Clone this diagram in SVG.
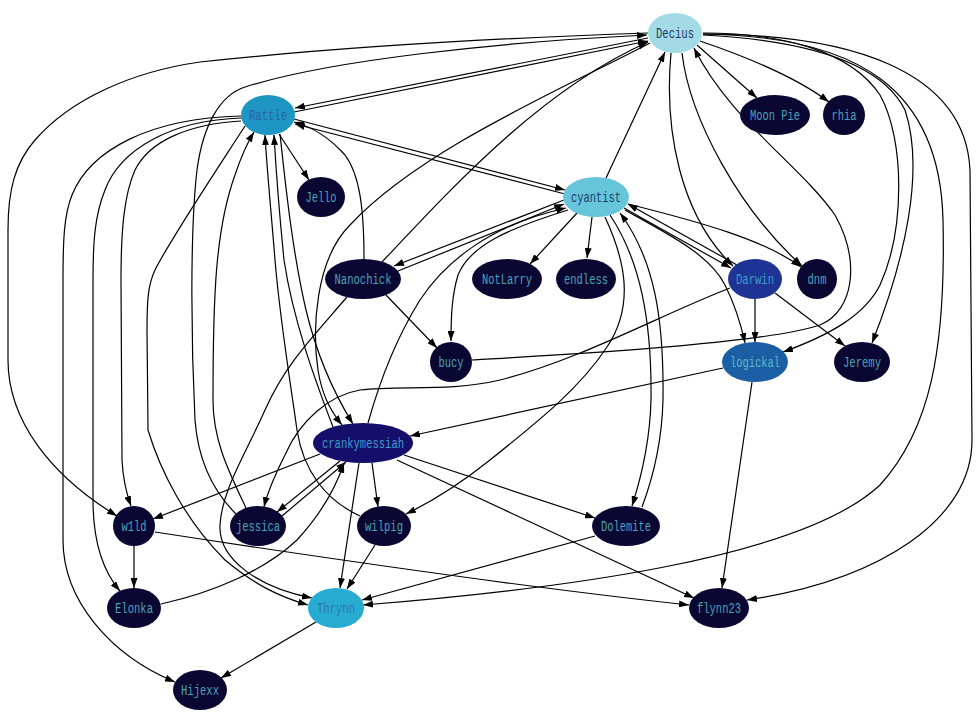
<svg xmlns="http://www.w3.org/2000/svg" width="980" height="720" viewBox="0 0 980 720">
<style>
.e{fill:none;stroke:#000;stroke-width:1.2;marker-end:url(#ah)}
text{font-family:"Liberation Mono","DejaVu Sans Mono",monospace;font-size:14px;text-anchor:middle}
.dk ellipse{fill:#0b0733}
.dk text{fill:#4aa3b8}
</style>
<defs>
<marker id="ah" viewBox="0 0 10 7" refX="10" refY="3.5" markerWidth="10" markerHeight="7" markerUnits="userSpaceOnUse" orient="auto"><path d="M0,0 L10,3.5 L0,7 z" fill="#000"/></marker>
</defs>
<rect width="980" height="720" fill="#fff"/>
<g id="edges">
<path class="e" d="M697,45 L757,98"/>
<path class="e" d="M700,41 C750,58 800,80 829,102"/>
<path class="e" d="M648,38 L295,108"/>
<path class="e" d="M294,112 L648,41"/>
<path class="e" d="M682,53 C690,120 740,210 802,266"/>
<path class="e" d="M671,53 C664,130 680,215 733,266"/>
<path class="e" d="M703,33 C780,33 850,50 880,95 C905,140 905,230 880,285 C865,315 830,335 783,352"/>
<path class="e" d="M703,35 C800,40 880,60 905,110 C925,170 905,260 872,343"/>
<path class="e" d="M703,34 C860,36 940,90 943,220 C946,350 930,430 880,485 C800,560 550,590 363,605"/>
<path class="e" d="M703,34 C850,34 965,70 970,170 L972,440 C972,520 880,580 747,600"/>
<path class="e" d="M472,360 C550,355 760,345 820,325 C855,310 860,260 835,215 C800,165 730,120 694,48"/>
<path class="e" d="M606,178 L665,52"/>
<path class="e" d="M382,262 C450,190 540,90 648,42"/>
<path class="e" d="M650,43 C560,90 420,150 350,225 C315,260 312,330 318,370 C322,395 330,410 342,425"/>
<path class="e" d="M236,514 C212,490 198,460 195,420 C191,340 190,230 197,170 C203,125 220,95 245,87 C330,60 500,42 647,35"/>
<path class="e" d="M246,508 C228,470 213,440 213,400 C213,300 215,230 235,175 C240,160 246,145 254,132"/>
<path class="e" d="M648,33 C500,38 330,48 200,62 C130,72 70,100 35,140 C15,163 8,190 8,230 L8,360 C8,420 50,475 117,516"/>
<path class="e" d="M241,116 C150,118 90,150 72,195 C64,215 63,240 63,280 L63,540 C63,600 110,655 175,682"/>
<path class="e" d="M242,118 C170,120 120,150 105,190 C95,215 93,240 93,280 L93,500 C93,540 102,570 120,591"/>
<path class="e" d="M241,121 C190,124 150,140 135,170 C124,195 121,230 121,280 L122,460 C123,480 127,495 131,506"/>
<path class="e" d="M279,134 L309,180"/>
<path class="e" d="M245,126 C210,180 170,240 155,270 C148,285 147,300 147,330 L148,430 C160,470 185,520 225,560 C255,585 280,597 308,605"/>
<path class="e" d="M347,297 C310,340 285,365 265,410 C245,455 222,490 220,525 C218,560 260,588 312,598"/>
<path class="e" d="M386,295 L437,348"/>
<path class="e" d="M364,259 C364,210 360,175 345,155 C330,138 315,128 294,122"/>
<path class="e" d="M294,119 L565,190"/>
<path class="e" d="M565,194 L295,124"/>
<path class="e" d="M398,271 L564,204"/>
<path class="e" d="M564,200 L394,266"/>
<path class="e" d="M368,423 C380,380 395,340 420,300 C445,262 490,225 566,208"/>
<path class="e" d="M568,210 C510,228 470,245 458,275 C452,295 451,315 451,341"/>
<path class="e" d="M577,213 L530,264"/>
<path class="e" d="M592,217 L587,258"/>
<path class="e" d="M624,208 L731,268"/>
<path class="e" d="M737,265 L628,204"/>
<path class="e" d="M625,210 C670,235 710,255 725,285 C735,305 740,320 745,343"/>
<path class="e" d="M628,204 C700,222 765,240 801,267"/>
<path class="e" d="M610,215 C640,260 652,320 651,400 C650,440 642,475 632,506"/>
<path class="e" d="M642,507 C654,475 662,440 663,400 C664,320 655,260 620,213"/>
<path class="e" d="M605,217 C625,260 635,305 607,347 C580,388 540,420 490,460 C465,480 435,500 406,514"/>
<path class="e" d="M755,299 L755,342"/>
<path class="e" d="M775,293 L845,346"/>
<path class="e" d="M730,288 C660,315 580,360 500,380 C450,392 400,385 360,390 C330,395 300,420 285,455 C275,475 268,490 264,507"/>
<path class="e" d="M723,368 L410,436"/>
<path class="e" d="M752,382 L722,588"/>
<path class="e" d="M320,454 L153,519"/>
<path class="e" d="M340,461 L277,512"/>
<path class="e" d="M282,516 L346,462"/>
<path class="e" d="M372,463 L378,507"/>
<path class="e" d="M359,463 L340,588"/>
<path class="e" d="M404,455 L595,518"/>
<path class="e" d="M397,460 L694,598"/>
<path class="e" d="M375,545 L347,589"/>
<path class="e" d="M360,516 C325,500 303,470 297,430 C290,380 280,320 275,260 C271,210 267,170 265,135"/>
<path class="e" d="M333,427 C315,380 293,320 284,260 C279,210 276,170 274,135"/>
<path class="e" d="M280,134 C285,180 292,250 306,310 C318,360 335,395 353,424"/>
<path class="e" d="M134,546 L134,588"/>
<path class="e" d="M155,532 C350,562 550,590 689,605"/>
<path class="e" d="M161,604 C215,592 265,570 297,540 C320,515 335,490 344,463"/>
<path class="e" d="M316,622 L221,678"/>
<path class="e" d="M595,536 L362,600"/>
</g>
<g id="Decius"><ellipse cx="675" cy="33" rx="27" ry="20" fill="#a2dbe6"/><text x="675" y="38" textLength="38" lengthAdjust="spacingAndGlyphs" fill="#263a66">Decius</text></g>
<g id="Rattle"><ellipse cx="268" cy="115" rx="27" ry="20" fill="#1f95c3"/><text x="268" y="120" textLength="38" lengthAdjust="spacingAndGlyphs" fill="#2a64a6">Rattle</text></g>
<g id="Jello" class="dk"><ellipse cx="321" cy="197" rx="24" ry="20"/><text x="321" y="202" textLength="31" lengthAdjust="spacingAndGlyphs">Jello</text></g>
<g id="MoonPie" class="dk"><ellipse cx="775" cy="115" rx="35" ry="20"/><text x="775" y="120" textLength="50" lengthAdjust="spacingAndGlyphs">Moon Pie</text></g>
<g id="rhia" class="dk"><ellipse cx="844" cy="115" rx="21" ry="20"/><text x="844" y="120" textLength="25" lengthAdjust="spacingAndGlyphs">rhia</text></g>
<g id="cyantist"><ellipse cx="596" cy="197" rx="33" ry="20" fill="#66c5da"/><text x="596" y="202" textLength="50" lengthAdjust="spacingAndGlyphs" fill="#1f3b6e">cyantist</text></g>
<g id="Nanochick" class="dk"><ellipse cx="363" cy="279" rx="38" ry="20"/><text x="363" y="284" textLength="57" lengthAdjust="spacingAndGlyphs">Nanochick</text></g>
<g id="NotLarry" class="dk"><ellipse cx="507" cy="279" rx="35" ry="20"/><text x="507" y="284" textLength="50" lengthAdjust="spacingAndGlyphs">NotLarry</text></g>
<g id="endless" class="dk"><ellipse cx="586" cy="279" rx="30" ry="20"/><text x="586" y="284" textLength="44" lengthAdjust="spacingAndGlyphs">endless</text></g>
<g id="Darwin"><ellipse cx="755" cy="279" rx="27" ry="20" fill="#1e3393"/><text x="755" y="284" textLength="38" lengthAdjust="spacingAndGlyphs" fill="#3c9fcc">Darwin</text></g>
<g id="dnm" class="dk"><ellipse cx="817" cy="279" rx="20" ry="20"/><text x="817" y="284" textLength="19" lengthAdjust="spacingAndGlyphs">dnm</text></g>
<g id="bucy" class="dk"><ellipse cx="451" cy="362" rx="21" ry="20"/><text x="451" y="367" textLength="25" lengthAdjust="spacingAndGlyphs">bucy</text></g>
<g id="logickal"><ellipse cx="755" cy="362" rx="33" ry="20" fill="#1b5ea3"/><text x="755" y="367" textLength="50" lengthAdjust="spacingAndGlyphs" fill="#5cb8c8">logickal</text></g>
<g id="Jeremy" class="dk"><ellipse cx="862" cy="362" rx="28" ry="20"/><text x="862" y="367" textLength="38" lengthAdjust="spacingAndGlyphs">Jeremy</text></g>
<g id="crankymessiah"><ellipse cx="363" cy="443" rx="50" ry="20" fill="#150f6b"/><text x="363" y="448" textLength="82" lengthAdjust="spacingAndGlyphs" fill="#3a9fcc">crankymessiah</text></g>
<g id="w1ld" class="dk"><ellipse cx="134" cy="526" rx="21" ry="20"/><text x="134" y="531" textLength="25" lengthAdjust="spacingAndGlyphs">w1ld</text></g>
<g id="jessica" class="dk"><ellipse cx="258" cy="526" rx="28" ry="20"/><text x="258" y="531" textLength="44" lengthAdjust="spacingAndGlyphs">jessica</text></g>
<g id="wilpig" class="dk"><ellipse cx="384" cy="526" rx="27" ry="20"/><text x="384" y="531" textLength="38" lengthAdjust="spacingAndGlyphs">wilpig</text></g>
<g id="Dolemite" class="dk"><ellipse cx="626" cy="526" rx="34" ry="20"/><text x="626" y="531" textLength="50" lengthAdjust="spacingAndGlyphs">Dolemite</text></g>
<g id="Elonka" class="dk"><ellipse cx="134" cy="608" rx="27" ry="20"/><text x="134" y="613" textLength="38" lengthAdjust="spacingAndGlyphs">Elonka</text></g>
<g id="Thrynn"><ellipse cx="336" cy="608" rx="28" ry="20" fill="#27abd0"/><text x="336" y="613" textLength="38" lengthAdjust="spacingAndGlyphs" fill="#3474b2">Thrynn</text></g>
<g id="flynn23" class="dk"><ellipse cx="719" cy="608" rx="30" ry="20"/><text x="719" y="613" textLength="44" lengthAdjust="spacingAndGlyphs">flynn23</text></g>
<g id="Hijexx" class="dk"><ellipse cx="200" cy="690" rx="27" ry="20"/><text x="200" y="695" textLength="38" lengthAdjust="spacingAndGlyphs">Hijexx</text></g>
</svg>
